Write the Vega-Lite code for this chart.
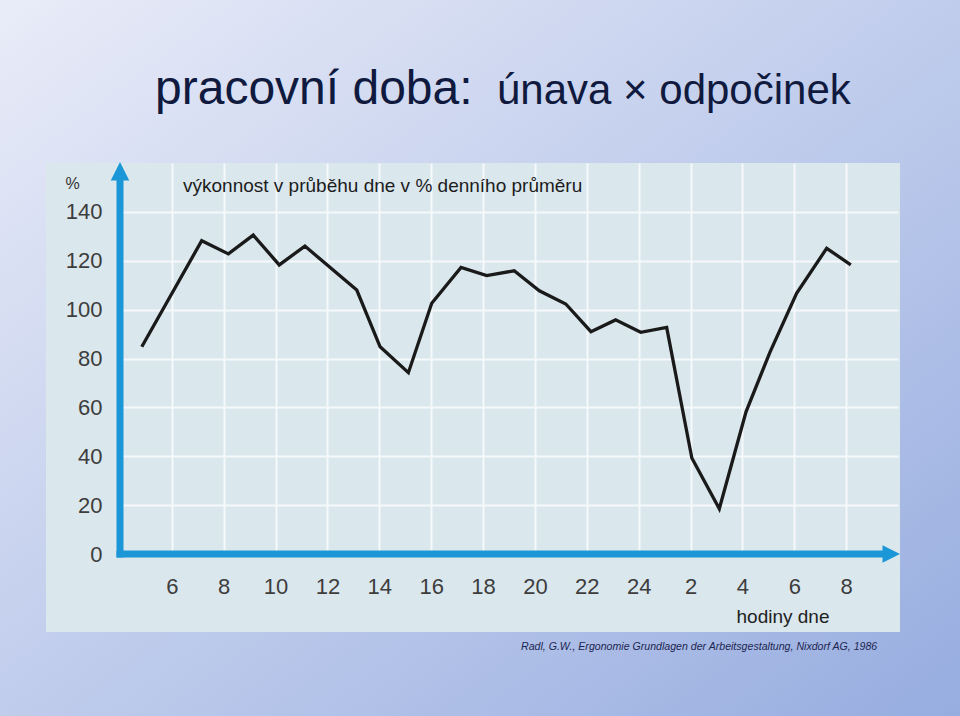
{
  "$schema": "https://vega.github.io/schema/vega-lite/v6.json",
  "width": 854,
  "height": 469,
  "autosize": "none",
  "padding": {"left": 46, "top": 163, "right": 60, "bottom": 84},
  "background": "#c3cfed",
  "view": {"fill": "#dae7ed", "stroke": null},
  "config": {"font": "Liberation Sans"},
  "data": {"values": [{}]},
  "datasets": {
    "perf": [
      {"hour": 4.84, "pct": 84.8}, {"hour": 7.15, "pct": 128.2}, {"hour": 8.18, "pct": 122.8},
      {"hour": 9.14, "pct": 130.5}, {"hour": 10.14, "pct": 118.3}, {"hour": 11.13, "pct": 126.0},
      {"hour": 13.13, "pct": 108.0}, {"hour": 14.03, "pct": 84.8}, {"hour": 15.12, "pct": 74.2},
      {"hour": 16.02, "pct": 102.6}, {"hour": 17.15, "pct": 117.3}, {"hour": 18.14, "pct": 113.9},
      {"hour": 19.2, "pct": 115.9}, {"hour": 20.17, "pct": 107.7}, {"hour": 21.19, "pct": 102.3},
      {"hour": 22.16, "pct": 91.0}, {"hour": 23.11, "pct": 95.8}, {"hour": 24.08, "pct": 90.7},
      {"hour": 25.08, "pct": 92.7}, {"hour": 26.05, "pct": 39.3}, {"hour": 27.11, "pct": 18.5},
      {"hour": 28.14, "pct": 58.2}, {"hour": 29.06, "pct": 82.5}, {"hour": 30.09, "pct": 106.7},
      {"hour": 31.25, "pct": 125.1}, {"hour": 32.18, "pct": 118.3}
    ]
  },
  "layer": [
    {
      "data": {"name": "perf"},
      "mark": {"type": "line", "color": "#1a1a1a", "strokeWidth": 3.3, "strokeJoin": "miter", "clip": false},
      "encoding": {
        "x": {
          "field": "hour", "type": "quantitative",
          "scale": {"domain": [4, 34], "range": [74, 852], "nice": false, "zero": false},
          "axis": {
            "orient": "top",
            "values": [6, 8, 10, 12, 14, 16, 18, 20, 22, 24, 26, 28, 30, 32],
            "labelExpr": "datum.value > 24 ? datum.value - 24 : datum.value",
            "domain": false, "ticks": false,
            "labelPadding": -430.5, "labelBaseline": "alphabetic", "labelFontSize": 22,
            "labelColor": "#3d3d3d", "labelFont": "Liberation Sans", "labelOverlap": false, "labelFlush": false,
            "grid": true, "gridColor": "#f6f9fb", "gridWidth": 2, "gridOpacity": 1,
            "title": "hodiny dne", "titleX": 783, "titleY": 459, "titleAlign": "right",
            "titleBaseline": "alphabetic", "titleFontSize": 19, "titleFontWeight": "normal",
            "titleColor": "#222222", "titleFont": "Liberation Sans"
          }
        },
        "y": {
          "field": "pct", "type": "quantitative",
          "scale": {"domain": [0, 160], "range": [391, 0], "nice": false, "zero": false},
          "axis": {
            "values": [0, 20, 40, 60, 80, 100, 120, 140],
            "domain": false, "ticks": false,
            "labelPadding": -56, "labelBaseline": "middle", "labelAlign": "right", "labelFontSize": 22,
            "labelColor": "#3d3d3d", "labelFont": "Liberation Sans", "labelOverlap": false, "labelFlush": false,
            "grid": true, "gridColor": "#f6f9fb", "gridWidth": 2, "gridOpacity": 1,
            "title": "%", "titleAngle": 0, "titleX": 26, "titleY": 20, "titleAlign": "center",
            "titleBaseline": "middle", "titleFontSize": 16, "titleFontWeight": "normal",
            "titleColor": "#333333", "titleFont": "Liberation Sans"
          }
        }
      }
    },
    {
      "mark": {"type": "rect", "clip": false, "strokeWidth": 0,
        "fill": {"gradient": "linear", "x1": 0, "y1": 0, "x2": 1.9015, "y2": 0.43289,
          "stops": [{"offset": 0, "color": "#e9ecf8"}, {"offset": 1, "color": "#97ade0"}]}},
      "encoding": {
        "x": {"datum": -0.6273, "type": "quantitative"},
        "x2": {"datum": 36.391},
        "y": {"datum": 226.70, "type": "quantitative"},
        "y2": {"datum": 160.0}
      }
    },
    {
      "mark": {"type": "rect", "clip": false, "strokeWidth": 0,
        "fill": {"gradient": "linear", "x1": -0.8707, "y1": -0.10215, "x2": 1.10214, "y2": 0.1293,
          "stops": [{"offset": 0, "color": "#e9ecf8"}, {"offset": 1, "color": "#97ade0"}]}},
      "encoding": {
        "x": {"datum": -0.6273, "type": "quantitative"},
        "x2": {"datum": 36.391},
        "y": {"datum": -31.918, "type": "quantitative"},
        "y2": {"datum": -66.292}
      }
    },
    {
      "mark": {"type": "rect", "clip": false, "strokeWidth": 0,
        "fill": {"gradient": "linear", "x1": -0.025288, "y1": -0.345697, "x2": 0.196873, "y2": 2.69134,
          "stops": [{"offset": 0, "color": "#e9ecf8"}, {"offset": 1, "color": "#97ade0"}]}},
      "encoding": {
        "x": {"datum": -0.6273, "type": "quantitative"},
        "x2": {"datum": 1.1465},
        "y": {"datum": 160.0, "type": "quantitative"},
        "y2": {"datum": -31.918}
      }
    },
    {
      "mark": {"type": "rect", "clip": false, "strokeWidth": 0,
        "fill": {"gradient": "linear", "x1": -0.168193, "y1": -1.762737, "x2": 0.120512, "y2": 1.263021,
          "stops": [{"offset": 0, "color": "#e9ecf8"}, {"offset": 1, "color": "#97ade0"}]}},
      "encoding": {
        "x": {"datum": 34.0771, "type": "quantitative"},
        "x2": {"datum": 36.391},
        "y": {"datum": 160.0, "type": "quantitative"},
        "y2": {"datum": -31.918}
      }
    },
    {
      "mark": {"type": "rule", "color": "#1b96d6", "strokeWidth": 7, "strokeCap": "square", "clip": false},
      "encoding": {
        "x": {"datum": 4, "type": "quantitative"},
        "y": {"datum": 0, "type": "quantitative"},
        "y2": {"datum": 153}
      }
    },
    {
      "mark": {"type": "rule", "color": "#1b96d6", "strokeWidth": 7, "strokeCap": "square", "clip": false},
      "encoding": {
        "x": {"datum": 4, "type": "quantitative"},
        "x2": {"datum": 33.3},
        "y": {"datum": 0, "type": "quantitative"}
      }
    },
    {
      "mark": {"type": "point", "shape": "M0,0L-1,2L1,2Z", "filled": true, "size": 342, "color": "#1b96d6", "opacity": 1, "strokeWidth": 0, "clip": false},
      "encoding": {
        "x": {"datum": 4, "type": "quantitative"},
        "y": {"datum": 160.4, "type": "quantitative"}
      }
    },
    {
      "mark": {"type": "point", "shape": "M0,0L-2,-1L-2,1Z", "filled": true, "size": 306, "color": "#1b96d6", "opacity": 1, "strokeWidth": 0, "clip": false},
      "encoding": {
        "x": {"datum": 34.077, "type": "quantitative"},
        "y": {"datum": 0, "type": "quantitative"}
      }
    },
    {
      "mark": {"type": "text", "align": "left", "baseline": "alphabetic", "fontSize": 48, "color": "#101a3e", "font": "Liberation Sans", "clip": false},
      "encoding": {
        "x": {"datum": 5.35, "type": "quantitative"},
        "y": {"datum": 184.14, "type": "quantitative"},
        "text": {"value": "pracovní doba:"}
      }
    },
    {
      "mark": {"type": "text", "align": "left", "baseline": "alphabetic", "fontSize": 42, "color": "#101a3e", "font": "Liberation Sans", "clip": false},
      "encoding": {
        "x": {"datum": 18.537, "type": "quantitative"},
        "y": {"datum": 184.14, "type": "quantitative"},
        "text": {"value": "únava × odpočinek"}
      }
    },
    {
      "mark": {"type": "text", "align": "left", "baseline": "alphabetic", "fontSize": 19, "color": "#1c1c1c", "font": "Liberation Sans", "clip": false},
      "encoding": {
        "x": {"datum": 6.43, "type": "quantitative"},
        "y": {"datum": 148.13, "type": "quantitative"},
        "text": {"value": "výkonnost v průběhu dne v % denního průměru"}
      }
    },
    {
      "mark": {"type": "text", "align": "left", "baseline": "alphabetic", "fontSize": 10.6, "fontStyle": "italic", "color": "#1c2652", "font": "Liberation Sans", "clip": false},
      "encoding": {
        "x": {"datum": 19.463, "type": "quantitative"},
        "y": {"datum": -39.08, "type": "quantitative"},
        "text": {"value": "Radl, G.W., Ergonomie Grundlagen der Arbeitsgestaltung, Nixdorf AG, 1986"}
      }
    }
  ]
}
